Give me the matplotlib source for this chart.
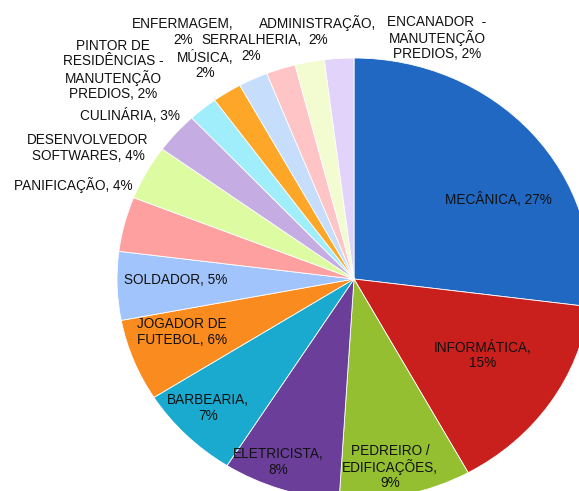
import matplotlib.pyplot as plt

plt.rcParams['font.family'] = ['Liberation Sans', 'DejaVu Sans']

cursos = ['MECÂNICA', 'INFORMÁTICA', 'PEDREIRO /\nEDIFICAÇÕES', 'ELETRICISTA',
          'BARBEARIA', 'JOGADOR DE\nFUTEBOL', 'SOLDADOR', 'PANIFICAÇÃO',
          'DESENVOLVEDOR\nSOFTWARES', 'CULINÁRIA',
          'PINTOR DE\nRESIDÊNCIAS -\nMANUTENÇÃO\nPREDIOS', 'ENFERMAGEM',
          'MÚSICA', 'SERRALHERIA', 'ADMINISTRAÇÃO',
          'ENCANADOR  -\nMANUTENÇÃO\nPREDIOS']
percent = [27, 15, 9, 8, 7, 6, 5, 4, 4, 3, 2, 2, 2, 2, 2, 2]
cores = ['#2068c2', '#c9201d', '#93bf31', '#6b3f99', '#1aaacf', '#fa8b1e',
         '#a2c4fd', '#fea0a0', '#ddfba1', '#c5ade4', '#a0eefc', '#fea628',
         '#c6defc', '#fec4c6', '#f3fcd0', '#e1d3fa']

# como cada rótulo é escrito (quebra de linha antes do % ou não)
label_txt = ['MECÂNICA, 27%', 'INFORMÁTICA,\n15%', 'PEDREIRO /\nEDIFICAÇÕES,\n9%',
             'ELETRICISTA,\n8%', 'BARBEARIA,\n7%', 'JOGADOR DE\nFUTEBOL, 6%',
             'SOLDADOR, 5%', 'PANIFICAÇÃO, 4%', 'DESENVOLVEDOR\nSOFTWARES, 4%',
             'CULINÁRIA, 3%', 'PINTOR DE\nRESIDÊNCIAS -\nMANUTENÇÃO\nPREDIOS, 2%',
             'ENFERMAGEM,\n2%', 'MÚSICA,\n2%', 'SERRALHERIA,\n2%',
             'ADMINISTRAÇÃO,\n2%', 'ENCANADOR  -\nMANUTENÇÃO\nPREDIOS, 2%']

# posição dos rótulos em pixels da imagem (x, y a partir do topo)
label_px = [(498, 199), (483, 355), (390, 467), (278, 462), (208, 408),
            (182, 332), (176, 280), (73, 185), (88, 148), (130, 116),
            (113, 70), (183, 32), (205, 65), (251, 48), (318, 31), (437, 38)]

W, H = 579, 491
cx, cy, rx, ry = 354, 279, 237, 221

fig = plt.figure(figsize=(W / 100, H / 100), dpi=100)
ax = fig.add_axes([0, 0, 1, 1])
ax.pie(percent, colors=cores, startangle=90, counterclock=False,
       wedgeprops=dict(linewidth=0.6, edgecolor='white'))
ax.set_aspect('auto')
ax.set_xlim(-cx / rx, (W - cx) / rx)
ax.set_ylim(-(H - cy) / ry, cy / ry)
ax.axis('off')

for txt, (px, py) in zip(label_txt, label_px):
    ax.text((px - cx) / rx, (cy - py) / ry, txt, ha='center', va='center',
            fontsize=9.8, color='#111111', linespacing=1.1)

fig.savefig('out.png', dpi=100)
